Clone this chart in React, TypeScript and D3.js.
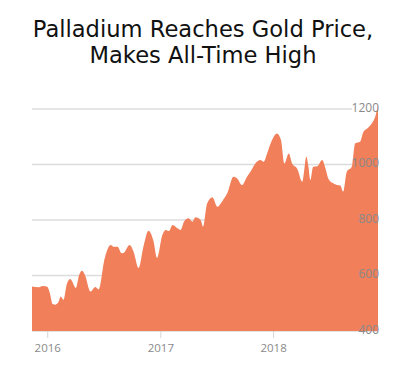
import React from "react";
import * as d3 from "d3";

const titleLines = ["Palladium Reaches Gold Price,", "Makes All-Time High"];

const dates = [
  "2015-11-11", "2015-12-03", "2015-12-16", "2015-12-29", "2016-01-07", "2016-01-17",
  "2016-01-26", "2016-02-05", "2016-02-12", "2016-02-21", "2016-03-03", "2016-03-14",
  "2016-04-01", "2016-04-11", "2016-04-21", "2016-05-01", "2016-05-18", "2016-06-03",
  "2016-06-14", "2016-07-03", "2016-07-23", "2016-08-01", "2016-08-14", "2016-08-27",
  "2016-09-03", "2016-09-22", "2016-10-05", "2016-10-21", "2016-11-06", "2016-11-22",
  "2016-12-08", "2016-12-20", "2017-01-06", "2017-01-17", "2017-01-27", "2017-02-08",
  "2017-02-24", "2017-03-06", "2017-03-17", "2017-04-01", "2017-04-13", "2017-04-23",
  "2017-05-10", "2017-05-18", "2017-05-31", "2017-06-17", "2017-07-03", "2017-07-19",
  "2017-08-04", "2017-08-24", "2017-09-05", "2017-09-21", "2017-10-07", "2017-10-18",
  "2017-11-03", "2017-11-19", "2017-11-30", "2017-12-11", "2017-12-27", "2018-01-12",
  "2018-01-25", "2018-02-05", "2018-02-19", "2018-03-02", "2018-03-18", "2018-04-04",
  "2018-04-08", "2018-04-17", "2018-04-24", "2018-04-30", "2018-05-09", "2018-05-23",
  "2018-06-07", "2018-06-18", "2018-06-27", "2018-07-13", "2018-07-25", "2018-08-05",
  "2018-08-14", "2018-08-26", "2018-09-11", "2018-09-22", "2018-10-08", "2018-10-19",
  "2018-10-31", "2018-11-15", "2018-11-26", "2018-12-05",
];

const prices = [
  560, 558, 562, 560, 540, 497,
  495, 505, 524, 512, 570, 587,
  555, 600, 617, 600, 542, 559,
  550, 660, 710, 704, 704, 680,
  682, 710, 685, 627, 705, 761,
  725, 663, 746, 764, 760, 782,
  770, 764, 794, 806, 794, 810,
  800, 776, 860, 882, 848, 868,
  896, 956, 950, 926, 956, 974,
  1004, 1016, 1010, 1040, 1088, 1112,
  1088, 1004, 1040, 1004, 986, 938,
  960, 1028, 990, 944, 992, 994,
  1016, 986, 950, 932, 926, 924,
  902, 974, 992, 1076, 1082, 1118,
  1130, 1148, 1172, 1214,
];

const yTicks = [400, 600, 800, 1000, 1200];
const xTickYears = ["2016", "2017", "2018"];

export default function App() {
  const W = 402;
  const H = 371;
  const parse = d3.timeParse("%Y-%m-%d");
  const data = dates.map((d, i) => ({ date: parse(d) as Date, value: prices[i] }));

  const left = 32;
  const right = 378;
  const x = d3
    .scaleTime()
    .domain([data[0].date, data[data.length - 1].date])
    .range([left, right]);
  const y = d3.scaleLinear().domain([400, 1200]).range([331, 109]);

  const area = d3
    .area<{ date: Date; value: number }>()
    .x((d) => x(d.date))
    .y0(y(400))
    .y1((d) => y(d.value))
    .curve(d3.curveMonotoneX);

  const fill = "#f07f5a";

  return (
    <svg
      width={W}
      height={H}
      style={{ position: "absolute", left: 0, top: 0, background: "#fff" }}
    >
      {titleLines.map((t, i) => (
        <text
          key={t}
          x={W / 2 + 2}
          y={37 + i * 26}
          textAnchor="middle"
          fontFamily="DejaVu Sans"
          fontSize={22.6}
          fill="#111"
        >
          {t}
        </text>
      ))}
      {yTicks.map((v) => (
        <line
          key={"g" + v}
          x1={left}
          x2={352}
          y1={y(v)}
          y2={y(v)}
          stroke="#dcdcdc"
          strokeWidth={1.5}
        />
      ))}
      <line x1={left} x2={right} y1={y(400) + 0.5} y2={y(400) + 0.5} stroke="#e2e2e2" strokeWidth={1} />
      <path d={area(data) || ""} fill={fill} />
      {xTickYears.map((yr) => {
        const xx = x(parse(yr + "-01-01") as Date);
        return (
          <g key={yr}>
            <line x1={xx} x2={xx} y1={331} y2={338} stroke="#d5d5d5" strokeWidth={1} />
            <text
              x={xx}
              y={352}
              textAnchor="middle"
              fontFamily="Open Sans"
              fontSize={11.5}
              fill="#8a8a8a"
            >
              {yr}
            </text>
          </g>
        );
      })}
      {yTicks.map((v) => (
        <text
          key={"l" + v}
          x={379}
          y={y(v) + 2.5}
          textAnchor="end"
          fontFamily="Open Sans"
          fontSize={12}
          fill="#8a8a8a"
        >
          {v}
        </text>
      ))}
    </svg>
  );
}
